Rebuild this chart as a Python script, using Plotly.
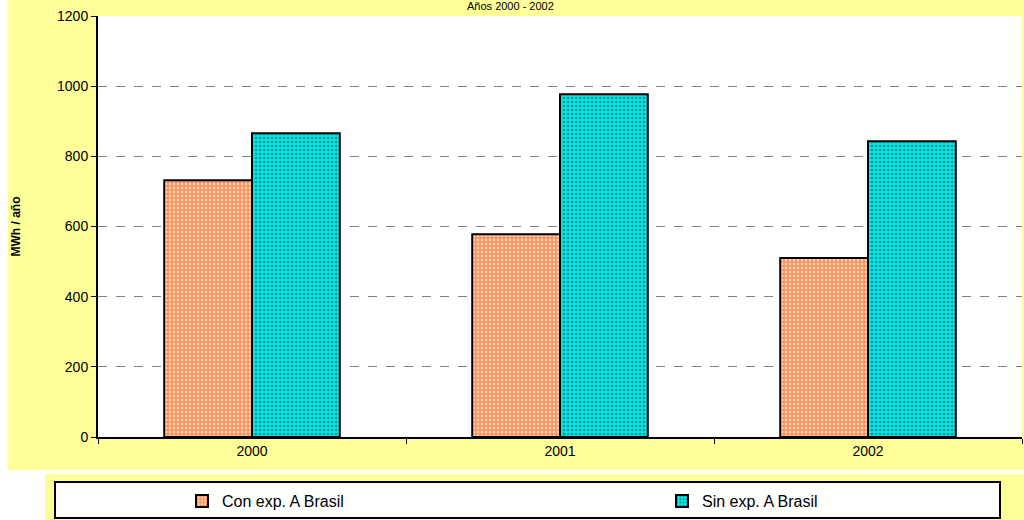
import plotly.graph_objects as go

years = ["2000", "2001", "2002"]
con_exp = [732, 578, 510]
sin_exp = [866, 977, 843]
y_ticks = [0, 200, 400, 600, 800, 1000, 1200]

L, R, T, B = 98, 1022, 16, 437
W, H = 1024, 520

def px(x):
    return (x - L) / (R - L)

def py(y):
    return (B - y) / (B - T)

fig = go.Figure()
fig.add_trace(go.Bar(
    x=years, y=con_exp, name="Con exp. A Brasil", legend="legend",
    marker=dict(color="#FFF4B0", line=dict(color="black", width=2),
                pattern=dict(shape=".", fgcolor="#FF2020", size=4, solidity=0.7, fillmode="overlay")),
))
fig.add_trace(go.Bar(
    x=years, y=sin_exp, name="Sin exp. A Brasil", legend="legend2",
    marker=dict(color="#00E8E8", line=dict(color="black", width=2),
                pattern=dict(shape=".", fgcolor="#0A3A3A", size=4, solidity=0.35, fillmode="overlay")),
))

shapes = [
    dict(type="rect", xref="paper", yref="paper", x0=px(8), x1=px(1024), y0=py(470), y1=py(0),
         fillcolor="#FFFF99", line=dict(width=0), layer="below"),
    dict(type="rect", xref="paper", yref="paper", x0=px(45), x1=px(1024), y0=py(520), y1=py(474),
         fillcolor="#FFFF99", line=dict(width=0), layer="below"),
    dict(type="rect", xref="paper", yref="paper", x0=px(55), x1=px(1000), y0=py(518), y1=py(482),
         fillcolor="white", line=dict(color="black", width=2), layer="below"),
    dict(type="rect", xref="paper", yref="paper", x0=0, x1=1, y0=0, y1=1,
         fillcolor="white", line=dict(width=0), layer="below"),
]

leg_common = dict(orientation="h", xanchor="left", yanchor="middle", bgcolor="rgba(0,0,0,0)",
                  font=dict(size=16, family="Liberation Sans, Arial"), itemwidth=30)

fig.update_layout(
    width=W, height=H,
    margin=dict(l=L, r=W - R, t=T, b=H - B),
    paper_bgcolor="white", plot_bgcolor="white",
    barmode="group", bargap=0.43, bargroupgap=0,
    font=dict(family="Liberation Sans, Arial", size=14, color="black"),
    shapes=shapes,
    showlegend=True,
    legend=dict(x=px(182), y=py(501), **leg_common),
    legend2=dict(x=px(662), y=py(501), **leg_common),
    annotations=[
        dict(text="Años 2000 - 2002", xref="paper", yref="paper", x=px(510), y=py(14),
             xanchor="center", yanchor="bottom", showarrow=False,
             font=dict(size=11, family="Liberation Sans, Arial", color="black")),
    ],
)

fig.update_xaxes(
    showline=True, linecolor="black", linewidth=2, ticks="outside", tickson="boundaries",
    ticklen=5, tickcolor="black", tickfont=dict(size=14), mirror=False, automargin=False,
)
fig.update_yaxes(
    range=[0, 1200], tickvals=y_ticks, showline=True, linecolor="black", linewidth=2,
    ticks="outside", ticklen=5, tickcolor="black", showgrid=True, gridcolor="#808080",
    griddash="dash", gridwidth=1, tickfont=dict(size=14), automargin=False,
    title=dict(text="<b>MWh / año</b>", font=dict(size=12), standoff=34), zeroline=False,
)

fig.write_html("out.html", config={"displayModeBar": False},
               post_script="document.body.style.margin='0';document.body.style.overflow='hidden';")
